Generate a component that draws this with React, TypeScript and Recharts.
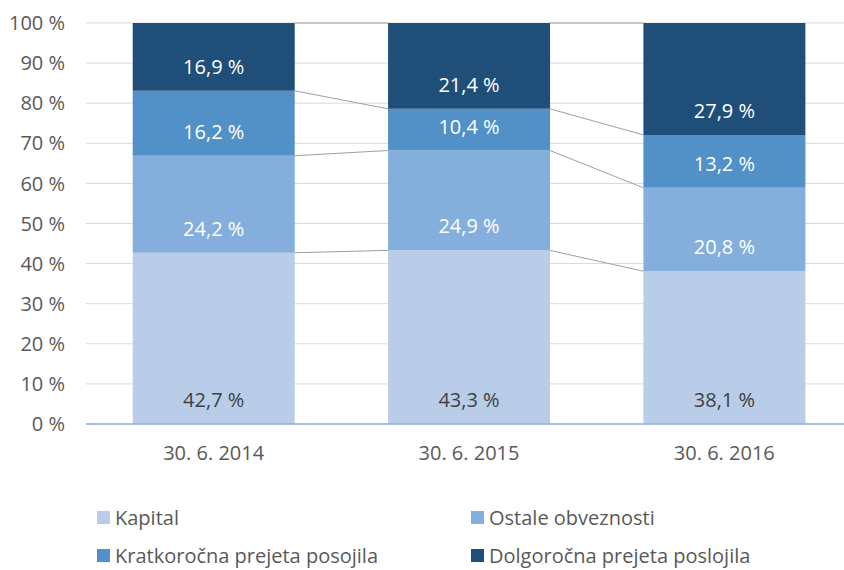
import React from 'react';
import { BarChart, Bar, XAxis, YAxis, CartesianGrid, LabelList, ReferenceLine, Legend } from 'recharts';

const categories = ['30. 6. 2014', '30. 6. 2015', '30. 6. 2016'];
const kapital = [42.7, 43.3, 38.1];
const ostale = [24.2, 24.9, 20.8];
const kratko = [16.2, 10.4, 13.2];
const dolgo = [16.9, 21.4, 27.9];
const yTicks = [0, 10, 20, 30, 40, 50, 60, 70, 80, 90, 100];

const seriesKeys = ['kapital', 'ostale', 'kratko', 'dolgo'];
const seriesNames = ['Kapital', 'Ostale obveznosti', 'Kratkoročna prejeta posojila', 'Dolgoročna prejeta poslojila'];
const seriesValues = [kapital, ostale, kratko, dolgo];
const colors = ['#B9CDE9', '#84AEDB', '#5290C8', '#1F4E79'];
const labelColors = ['#404040', '#FFFFFF', '#FFFFFF', '#FFFFFF'];

const GAP = 0.183;

const data = categories.map((c, i) => {
  const row: Record<string, any> = { cat: c, pos: i + 0.5 };
  seriesKeys.forEach((k, s) => {
    row[k] = seriesValues[s][i];
  });
  return row;
});

const cumulative = seriesValues.map((_, s) =>
  categories.map((_, i) => {
    let sum = 0;
    for (let j = 0; j <= s; j++) sum += seriesValues[j][i];
    return Math.round(sum * 10) / 10;
  })
);

const segments: { x: number; y: number }[][] = [];
cumulative.forEach((arr) => {
  for (let i = 0; i < arr.length - 1; i++) {
    segments.push([
      { x: i + 1 - GAP, y: arr[i] },
      { x: i + 1 + GAP, y: arr[i + 1] },
    ]);
  }
});

const fmt = (v: any) => `${Number(v).toFixed(1).replace('.', ',')} %`;

const LegendContent = (props: any) => {
  const payload = [...(props.payload || [])].sort(
    (a: any, b: any) => seriesNames.indexOf(a.value) - seriesNames.indexOf(b.value)
  );
  return (
    <div
      style={{
        display: 'grid',
        gridTemplateColumns: '374px 374px',
        rowGap: '14px',
        paddingLeft: 97,
        fontSize: 20,
        color: '#595959',
        fontFamily: '"Open Sans", sans-serif',
      }}
    >
      {payload.map((p: any, i: number) => (
        <div key={i} style={{ display: 'flex', alignItems: 'center', height: 24 }}>
          <span style={{ display: 'inline-block', width: 13, height: 13, background: p.color, marginRight: 5 }} />
          <span>{p.value}</span>
        </div>
      ))}
    </div>
  );
};

export default function App() {
  return (
    <div
      style={{
        position: 'absolute',
        left: 0,
        top: 0,
        width: 844,
        height: 570,
        overflow: 'hidden',
        background: '#fff',
        fontFamily: '"Open Sans", sans-serif',
      }}
    >
      <BarChart
        width={852}
        height={570}
        data={data}
        margin={{ top: 23, right: 0, bottom: 86, left: 0 }}
        barCategoryGap="18.3%"
      >
        <CartesianGrid vertical={false} stroke="#D9D9D9" strokeWidth={1} />
        <XAxis
          dataKey="cat"
          tickLine={false}
          tickSize={0}
          tickMargin={22}
          height={60}
          axisLine={{ stroke: '#8DB3E2', strokeWidth: 1.5 }}
          tick={{ fill: '#595959', fontSize: 20 }}
          interval={0}
        />
        <XAxis xAxisId="line" dataKey="pos" type="number" domain={[0, 3]} allowDataOverflow hide />
        <YAxis
          width={86}
          domain={[0, 100]}
          ticks={yTicks}
          tickFormatter={(v: number) => `${v} %`}
          axisLine={false}
          tickLine={false}
          tickSize={0}
          tickMargin={21}
          tick={{ fill: '#595959', fontSize: 20 }}
          allowDataOverflow
        />
        {seriesKeys.map((k, s) => (
          <Bar
            key={k}
            dataKey={k}
            name={seriesNames[s]}
            stackId="a"
            fill={colors[s]}
            isAnimationActive={false}
          >
            <LabelList
              dataKey={k}
              position="insideBottom"
              offset={17}
              fill={labelColors[s]}
              fontSize={20}
              formatter={fmt}
            />
          </Bar>
        ))}
        {segments.map((seg, i) => (
          <ReferenceLine
            key={i}
            xAxisId="line"
            segment={seg}
            stroke="#A0A0A0"
            strokeWidth={1}
            ifOverflow="visible"
          />
        ))}
        <Legend
          layout="horizontal"
          verticalAlign="middle"
          align="center"
          content={LegendContent}
          wrapperStyle={{ top: 505, left: 0, width: 844 }}
        />
      </BarChart>
    </div>
  );
}
